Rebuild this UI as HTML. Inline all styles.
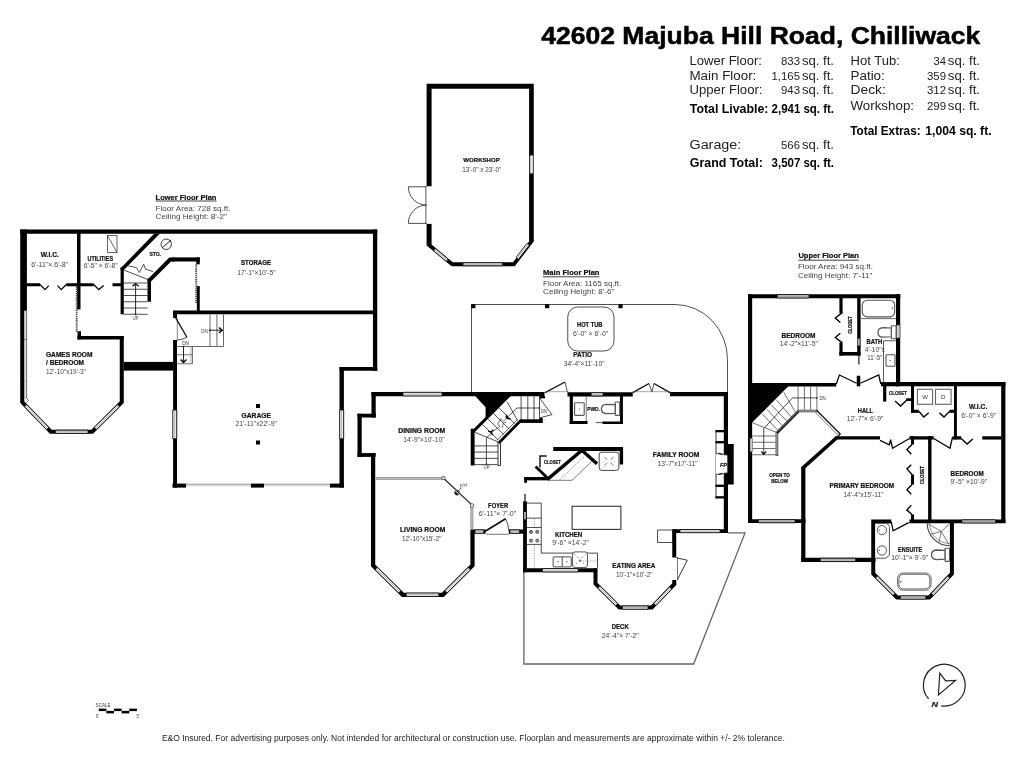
<!DOCTYPE html>
<html><head><meta charset="utf-8"><title>42602 Majuba Hill Road, Chilliwack</title>
<style>
html,body{margin:0;padding:0;background:#fff;}
body{width:1024px;height:768px;overflow:hidden;}
svg{display:block;will-change:transform;}
svg text{font-family:"Liberation Sans",sans-serif;}
</style></head><body>
<svg width="1024" height="768" viewBox="0 0 1024 768">
<rect width="1024" height="768" fill="#fff"/>
<!-- header -->
<text x="541.30" y="43.80" font-size="24" font-weight="700" fill="#000" text-anchor="start" textLength="439.00" lengthAdjust="spacingAndGlyphs" stroke="#000" stroke-width="0.5">42602 Majuba Hill Road, Chilliwack</text>
<text x="689.50" y="64.60" font-size="12.5" fill="#222" text-anchor="start" textLength="72.50" lengthAdjust="spacingAndGlyphs">Lower Floor:</text>
<text x="781.00" y="64.60" font-size="11" fill="#222" text-anchor="start" textLength="19.00" lengthAdjust="spacingAndGlyphs">833</text>
<text x="801.90" y="64.60" font-size="12.5" fill="#222" text-anchor="start" textLength="32.10" lengthAdjust="spacingAndGlyphs">sq. ft.</text>
<text x="689.50" y="79.50" font-size="12.5" fill="#222" text-anchor="start" textLength="66.80" lengthAdjust="spacingAndGlyphs">Main Floor:</text>
<text x="771.50" y="79.50" font-size="11" fill="#222" text-anchor="start" textLength="28.50" lengthAdjust="spacingAndGlyphs">1,165</text>
<text x="801.90" y="79.50" font-size="12.5" fill="#222" text-anchor="start" textLength="32.10" lengthAdjust="spacingAndGlyphs">sq. ft.</text>
<text x="689.50" y="94.00" font-size="12.5" fill="#222" text-anchor="start" textLength="73.00" lengthAdjust="spacingAndGlyphs">Upper Floor:</text>
<text x="781.00" y="94.00" font-size="11" fill="#222" text-anchor="start" textLength="19.00" lengthAdjust="spacingAndGlyphs">943</text>
<text x="801.90" y="94.00" font-size="12.5" fill="#222" text-anchor="start" textLength="32.10" lengthAdjust="spacingAndGlyphs">sq. ft.</text>
<text x="689.80" y="112.70" font-size="12" font-weight="700" fill="#000" text-anchor="start" textLength="78.60" lengthAdjust="spacingAndGlyphs">Total Livable:</text>
<text x="771.60" y="112.70" font-size="12" font-weight="700" fill="#000" text-anchor="start" textLength="62.40" lengthAdjust="spacingAndGlyphs">2,941 sq. ft.</text>
<text x="689.50" y="148.80" font-size="12.5" fill="#222" text-anchor="start" textLength="51.80" lengthAdjust="spacingAndGlyphs">Garage:</text>
<text x="781.00" y="148.80" font-size="11" fill="#222" text-anchor="start" textLength="19.00" lengthAdjust="spacingAndGlyphs">566</text>
<text x="801.90" y="148.80" font-size="12.5" fill="#222" text-anchor="start" textLength="32.10" lengthAdjust="spacingAndGlyphs">sq. ft.</text>
<text x="689.80" y="167.20" font-size="12" font-weight="700" fill="#000" text-anchor="start" textLength="73.00" lengthAdjust="spacingAndGlyphs">Grand Total:</text>
<text x="771.60" y="167.20" font-size="12" font-weight="700" fill="#000" text-anchor="start" textLength="62.40" lengthAdjust="spacingAndGlyphs">3,507 sq. ft.</text>
<text x="850.50" y="64.60" font-size="12.5" fill="#222" text-anchor="start" textLength="49.30" lengthAdjust="spacingAndGlyphs">Hot Tub:</text>
<text x="933.50" y="64.60" font-size="11" fill="#222" text-anchor="start" textLength="12.50" lengthAdjust="spacingAndGlyphs">34</text>
<text x="947.80" y="64.60" font-size="12.5" fill="#222" text-anchor="start" textLength="32.20" lengthAdjust="spacingAndGlyphs">sq. ft.</text>
<text x="850.50" y="79.50" font-size="12.5" fill="#222" text-anchor="start" textLength="34.30" lengthAdjust="spacingAndGlyphs">Patio:</text>
<text x="927.00" y="79.50" font-size="11" fill="#222" text-anchor="start" textLength="19.00" lengthAdjust="spacingAndGlyphs">359</text>
<text x="947.80" y="79.50" font-size="12.5" fill="#222" text-anchor="start" textLength="32.20" lengthAdjust="spacingAndGlyphs">sq. ft.</text>
<text x="850.50" y="94.00" font-size="12.5" fill="#222" text-anchor="start" textLength="35.30" lengthAdjust="spacingAndGlyphs">Deck:</text>
<text x="927.00" y="94.00" font-size="11" fill="#222" text-anchor="start" textLength="19.00" lengthAdjust="spacingAndGlyphs">312</text>
<text x="947.80" y="94.00" font-size="12.5" fill="#222" text-anchor="start" textLength="32.20" lengthAdjust="spacingAndGlyphs">sq. ft.</text>
<text x="850.50" y="110.00" font-size="12.5" fill="#222" text-anchor="start" textLength="63.50" lengthAdjust="spacingAndGlyphs">Workshop:</text>
<text x="927.00" y="110.00" font-size="11" fill="#222" text-anchor="start" textLength="19.00" lengthAdjust="spacingAndGlyphs">299</text>
<text x="947.80" y="110.00" font-size="12.5" fill="#222" text-anchor="start" textLength="32.20" lengthAdjust="spacingAndGlyphs">sq. ft.</text>
<text x="850.30" y="134.50" font-size="12" font-weight="700" fill="#000" text-anchor="start" textLength="70.30" lengthAdjust="spacingAndGlyphs">Total Extras:</text>
<text x="925.30" y="134.50" font-size="12" font-weight="700" fill="#000" text-anchor="start" textLength="66.30" lengthAdjust="spacingAndGlyphs">1,004 sq. ft.</text>
<text x="161.90" y="740.60" font-size="8.3" fill="#222" text-anchor="start" textLength="623.00" lengthAdjust="spacingAndGlyphs">E&amp;O Insured. For advertising purposes only. Not intended for architectural or construction use. Floorplan and measurements are approximate within +/- 2% tolerance.</text>
<text x="95.60" y="706.60" font-size="4.6" fill="#333" text-anchor="start" textLength="15.00" lengthAdjust="spacingAndGlyphs">SCALE</text>
<rect x="98.75" y="708.60" width="7.63" height="2.50" fill="#000"/>
<rect x="106.38" y="710.90" width="7.63" height="2.50" fill="#000"/>
<rect x="114.01" y="708.60" width="7.63" height="2.50" fill="#000"/>
<rect x="121.64" y="710.90" width="7.63" height="2.50" fill="#000"/>
<rect x="129.27" y="708.60" width="7.63" height="2.50" fill="#000"/>
<text x="96.00" y="717.50" font-size="4.6" fill="#333" text-anchor="start" textLength="3.00" lengthAdjust="spacingAndGlyphs">0'</text>
<text x="136.50" y="717.50" font-size="4.6" fill="#333" text-anchor="start" textLength="3.00" lengthAdjust="spacingAndGlyphs">5'</text>
<path d="M 941.3 705.8 A 20.9 20.9 0 1 0 928.6 698.9" fill="none" stroke="#222" stroke-width="1.2"/>
<path d="M 938.4 695 L 939.8 673.2 L 945.6 680.8 L 955.6 680.4 Z" fill="none" stroke="#222" stroke-width="1.2" stroke-linejoin="miter"/>
<text x="931.50" y="706.80" font-size="7.5" font-weight="700" fill="#222" text-anchor="start" textLength="6.50" lengthAdjust="spacingAndGlyphs" font-style="italic" stroke="#222" stroke-width="0.2">N</text>
<!-- lower floor -->
<text x="155.60" y="199.50" font-size="7" font-weight="700" fill="#111" text-anchor="start" textLength="60.80" lengthAdjust="spacingAndGlyphs" stroke="#111" stroke-width="0.2">Lower Floor Plan</text>
<path d="M155.60 201.00 L216.40 201.00" fill="none" stroke="#111" stroke-width="0.8"/>
<text x="155.60" y="210.70" font-size="7.4" fill="#444" text-anchor="start" textLength="75.00" lengthAdjust="spacingAndGlyphs">Floor Area: 728 sq.ft.</text>
<text x="155.60" y="218.60" font-size="7.4" fill="#444" text-anchor="start" textLength="71.40" lengthAdjust="spacingAndGlyphs">Ceiling Height: 8'-2"</text>
<path d="M20.25 231.60 L377.20 231.60" fill="none" stroke="#000" stroke-width="4.3" stroke-linecap="butt" stroke-linejoin="miter"/>
<path d="M375.10 229.50 L375.10 370.80" fill="none" stroke="#000" stroke-width="4.3" stroke-linecap="butt" stroke-linejoin="miter"/>
<path d="M339.50 368.90 L377.20 368.90" fill="none" stroke="#000" stroke-width="3.8" stroke-linecap="butt" stroke-linejoin="miter"/>
<path d="M341.70 367.00 L341.70 487.50" fill="none" stroke="#000" stroke-width="4.4" stroke-linecap="butt" stroke-linejoin="miter"/>
<rect x="330.00" y="483.60" width="14.00" height="4.00" fill="#000"/>
<rect x="251.00" y="483.60" width="13.00" height="4.00" fill="#000"/>
<rect x="172.50" y="483.60" width="13.50" height="4.00" fill="#000"/>
<path d="M175.05 311.00 L175.05 318.10" fill="none" stroke="#000" stroke-width="3.9" stroke-linecap="butt" stroke-linejoin="miter"/>
<path d="M175.05 340.00 L175.05 487.60" fill="none" stroke="#000" stroke-width="3.9" stroke-linecap="butt" stroke-linejoin="miter"/>
<path d="M173.10 312.40 L373.00 312.40" fill="none" stroke="#000" stroke-width="3.7" stroke-linecap="butt" stroke-linejoin="miter"/>
<rect x="20.25" y="229.50" width="6.65" height="81.10" fill="#000"/>
<rect x="20.25" y="310.00" width="4.00" height="71.00" fill="#000"/>
<path d="M23.60 310.60 L26.60 310.60 L26.60 398.00 L28.50 400.50 L26.50 402.50" fill="none" stroke="#333" stroke-width="0.7"/>
<path d="M25.10 311.00 L25.10 399.00" fill="none" stroke="#888" stroke-width="0.5"/>
<path d="M23.60 339.40 L26.60 339.40" fill="none" stroke="#333" stroke-width="0.6"/>
<path d="M22.25 380.00 L22.25 402.20 L50.80 431.75 L92.20 431.75 L121.75 402.20 L121.75 336.00" fill="none" stroke="#000" stroke-width="4" stroke-linecap="butt" stroke-linejoin="miter"/>
<polygon points="24.49,406.78 46.49,429.48 48.71,427.32 26.71,404.62" fill="#fafafa" stroke="#111" stroke-width="0.9"/>
<line x1="25.60" y1="405.70" x2="47.60" y2="428.40" stroke="#777" stroke-width="0.6"/>
<polygon points="55.60,433.35 88.00,433.35 88.00,430.15 55.60,430.15" fill="#fafafa" stroke="#111" stroke-width="0.9"/>
<line x1="55.60" y1="431.75" x2="88.00" y2="431.75" stroke="#777" stroke-width="0.6"/>
<polygon points="96.49,429.50 119.49,406.80 117.31,404.60 94.31,427.30" fill="#fafafa" stroke="#111" stroke-width="0.9"/>
<line x1="95.40" y1="428.40" x2="118.40" y2="405.70" stroke="#777" stroke-width="0.6"/>
<path d="M78.75 233.00 L78.75 309.40" fill="none" stroke="#000" stroke-width="3.5" stroke-linecap="butt" stroke-linejoin="miter"/>
<path d="M79.25 331.20 L79.25 339.40" fill="none" stroke="#000" stroke-width="3.5" stroke-linecap="butt" stroke-linejoin="miter"/>
<path d="M77.50 337.70 L123.70 337.70" fill="none" stroke="#000" stroke-width="3.4" stroke-linecap="butt" stroke-linejoin="miter"/>
<path d="M76.70 286.50 L76.70 332.50" fill="none" stroke="#555" stroke-width="1.9" stroke-dasharray="1.4 0.7"/>
<path d="M26.00 284.75 L40.00 284.75" fill="none" stroke="#000" stroke-width="3" stroke-linecap="butt" stroke-linejoin="miter"/>
<path d="M66.25 284.75 L93.75 284.75" fill="none" stroke="#000" stroke-width="3" stroke-linecap="butt" stroke-linejoin="miter"/>
<path d="M112.50 284.75 L122.50 284.75" fill="none" stroke="#000" stroke-width="3" stroke-linecap="butt" stroke-linejoin="miter"/>
<path d="M40.00 284.50 L45.00 289.60 L48.75 285.60" fill="none" stroke="#000" stroke-width="1.25"/>
<path d="M57.50 285.60 L61.25 289.60 L66.25 284.50" fill="none" stroke="#000" stroke-width="1.25"/>
<path d="M93.75 284.50 L98.75 289.60 L103.75 285.60" fill="none" stroke="#000" stroke-width="1.25"/>
<path d="M122.20 267.50 L122.20 314.30" fill="none" stroke="#000" stroke-width="3.2" stroke-linecap="butt" stroke-linejoin="miter"/>
<polygon points="154.40,233.40 160.00,233.40 123.75,270.00 120.60,270.00 120.60,268.30" fill="#000"/>
<path d="M149.25 278.50 L149.25 301.75" fill="none" stroke="#000" stroke-width="3.5" stroke-linecap="butt" stroke-linejoin="miter"/>
<polygon points="147.50,279.50 169.30,257.40 174.50,257.40 174.50,261.50 171.00,261.50 151.00,281.60 147.50,281.60" fill="#000"/>
<path d="M172.00 259.45 L199.75 259.45" fill="none" stroke="#000" stroke-width="4.1" stroke-linecap="butt" stroke-linejoin="miter"/>
<path d="M198.00 257.40 L198.00 264.30" fill="none" stroke="#000" stroke-width="3.5" stroke-linecap="butt" stroke-linejoin="miter"/>
<path d="M198.30 286.10 L198.30 311.00" fill="none" stroke="#000" stroke-width="2.9" stroke-linecap="butt" stroke-linejoin="miter"/>
<path d="M196.20 264.30 L196.20 303.00" fill="none" stroke="#555" stroke-width="1.9" stroke-dasharray="1.4 0.7"/>
<path d="M123.75 283.00 L147.50 283.00" fill="none" stroke="#222" stroke-width="0.8"/>
<path d="M123.75 289.25 L147.50 289.25" fill="none" stroke="#222" stroke-width="0.8"/>
<path d="M123.75 295.50 L147.50 295.50" fill="none" stroke="#222" stroke-width="0.8"/>
<path d="M123.75 301.75 L147.50 301.75" fill="none" stroke="#222" stroke-width="0.8"/>
<path d="M123.75 308.00 L147.50 308.00" fill="none" stroke="#222" stroke-width="0.8"/>
<path d="M123.75 314.25 L147.50 314.25" fill="none" stroke="#222" stroke-width="0.8"/>
<path d="M123.75 270.00 L147.50 279.40" fill="none" stroke="#222" stroke-width="0.8"/>
<path d="M127.00 265.60 L136.20 267.50 L139.40 272.40 L143.70 264.20 L145.60 269.20 L153.10 271.60" fill="none" stroke="#222" stroke-width="0.8"/>
<path d="M135.60 284.30 L135.60 314.30" fill="none" stroke="#111" stroke-width="0.9"/>
<path d="M132.50 286.20 L135.60 283.70 L138.70 286.20" fill="none" stroke="#000" stroke-width="1.25"/>
<circle cx="135.6" cy="314.3" r="0.9" fill="#111"/>
<text x="132.50" y="320.20" font-size="4.6" fill="#444" text-anchor="start" textLength="6.00" lengthAdjust="spacingAndGlyphs">UP</text>
<rect x="123.70" y="361.90" width="49.60" height="8.70" fill="#000"/>
<path d="M177.00 346.50 L223.50 346.50 L223.50 314.40" fill="none" stroke="#555" stroke-width="0.9"/>
<path d="M210.00 314.40 L210.00 346.50" fill="none" stroke="#777" stroke-width="1.1"/>
<path d="M216.90 314.40 L216.90 346.50" fill="none" stroke="#777" stroke-width="1.1"/>
<path d="M177.30 318.10 L177.30 340.00" fill="none" stroke="#555" stroke-width="0.7"/>
<path d="M175.50 317.50 L186.90 337.25" fill="none" stroke="#111" stroke-width="1.4"/>
<path d="M186.9 337.25 Q182 339.8 177 340.2" fill="none" stroke="#222" stroke-width="0.8"/>
<text x="201.25" y="332.75" font-size="4.6" fill="#333" text-anchor="start" textLength="6.50" lengthAdjust="spacingAndGlyphs">DN</text>
<path d="M209.75 330.25 L222.00 330.25" fill="none" stroke="#111" stroke-width="0.9"/>
<path d="M219.00 327.40 L222.20 330.25 L219.00 333.10" fill="none" stroke="#000" stroke-width="1.35"/>
<circle cx="209.75" cy="330.25" r="0.9" fill="#111"/>
<path d="M177.00 346.50 L192.50 346.50 L192.50 363.75 L177.00 363.75" fill="none" stroke="#666" stroke-width="0.9"/>
<path d="M191.00 346.50 L191.00 363.75" fill="none" stroke="#888" stroke-width="0.7"/>
<path d="M177.00 354.75 L192.50 354.75" fill="none" stroke="#666" stroke-width="0.9"/>
<text x="182.25" y="344.75" font-size="4.6" fill="#333" text-anchor="start" textLength="6.75" lengthAdjust="spacingAndGlyphs">DN</text>
<path d="M183.50 346.50 L183.50 362.30" fill="none" stroke="#111" stroke-width="0.9"/>
<path d="M180.60 359.50 L183.50 362.50 L186.40 359.50" fill="none" stroke="#000" stroke-width="1.35"/>
<circle cx="183.5" cy="346.5" r="0.8" fill="#111"/>
<path d="M186.00 484.20 L251.00 484.20" fill="none" stroke="#444" stroke-width="0.6"/>
<path d="M186.00 485.80 L251.00 485.80" fill="none" stroke="#999" stroke-width="0.5"/>
<path d="M264.00 484.20 L330.00 484.20" fill="none" stroke="#444" stroke-width="0.6"/>
<path d="M264.00 485.80 L330.00 485.80" fill="none" stroke="#999" stroke-width="0.5"/>
<polygon points="172.75,410.00 172.75,438.70 176.75,438.70 176.75,410.00" fill="#fafafa" stroke="#111" stroke-width="0.9"/>
<line x1="174.75" y1="410.00" x2="174.75" y2="438.70" stroke="#777" stroke-width="0.6"/>
<polygon points="339.70,410.00 339.70,438.70 343.70,438.70 343.70,410.00" fill="#fafafa" stroke="#111" stroke-width="0.9"/>
<line x1="341.70" y1="410.00" x2="341.70" y2="438.70" stroke="#777" stroke-width="0.6"/>
<rect x="256.00" y="404.00" width="4.00" height="4.00" fill="#000"/>
<rect x="256.00" y="440.50" width="4.00" height="4.00" fill="#000"/>
<path d="M107.50 235.50 L117.00 235.50 L117.00 252.50 L107.50 252.50 Z" fill="none" stroke="#222" stroke-width="0.7"/>
<path d="M107.50 235.50 L117.00 252.50" fill="none" stroke="#222" stroke-width="0.7"/>
<circle cx="166.25" cy="244.25" r="5.2" fill="none" stroke="#222" stroke-width="0.9"/>
<path d="M161.90 248.00 L171.25 239.90" fill="none" stroke="#222" stroke-width="1.0"/>
<text x="40.75" y="257.00" font-size="6.5" font-weight="700" fill="#111" text-anchor="start" textLength="18.00" lengthAdjust="spacingAndGlyphs" stroke="#111" stroke-width="0.2">W.I.C.</text>
<text x="31.25" y="267.00" font-size="6.8" fill="#444" text-anchor="start" textLength="36.80" lengthAdjust="spacingAndGlyphs">6'-11"× 6'-8"</text>
<text x="87.50" y="260.50" font-size="6.5" font-weight="700" fill="#111" text-anchor="start" textLength="25.50" lengthAdjust="spacingAndGlyphs" stroke="#111" stroke-width="0.2">UTILITIES</text>
<text x="83.75" y="268.30" font-size="6.8" fill="#444" text-anchor="start" textLength="33.80" lengthAdjust="spacingAndGlyphs">6'-5" × 6'-8"</text>
<text x="149.40" y="255.50" font-size="5.6" font-weight="700" fill="#111" text-anchor="start" textLength="11.60" lengthAdjust="spacingAndGlyphs" stroke="#111" stroke-width="0.2">STO.</text>
<text x="241.00" y="265.00" font-size="6.5" font-weight="700" fill="#111" text-anchor="start" textLength="30.00" lengthAdjust="spacingAndGlyphs" stroke="#111" stroke-width="0.2">STORAGE</text>
<text x="237.25" y="275.00" font-size="6.8" fill="#444" text-anchor="start" textLength="38.30" lengthAdjust="spacingAndGlyphs">17'-1"×10'-5"</text>
<text x="46.00" y="356.90" font-size="6.5" font-weight="700" fill="#111" text-anchor="start" textLength="46.50" lengthAdjust="spacingAndGlyphs" stroke="#111" stroke-width="0.2">GAMES ROOM</text>
<text x="46.00" y="365.00" font-size="6.5" font-weight="700" fill="#111" text-anchor="start" textLength="38.00" lengthAdjust="spacingAndGlyphs" stroke="#111" stroke-width="0.2">/ BEDROOM</text>
<text x="46.00" y="373.50" font-size="6.8" fill="#444" text-anchor="start" textLength="40.00" lengthAdjust="spacingAndGlyphs">12'-10"x19'-3"</text>
<text x="241.50" y="417.50" font-size="6.5" font-weight="700" fill="#111" text-anchor="start" textLength="29.50" lengthAdjust="spacingAndGlyphs" stroke="#111" stroke-width="0.2">GARAGE</text>
<text x="235.50" y="426.30" font-size="6.8" fill="#444" text-anchor="start" textLength="41.50" lengthAdjust="spacingAndGlyphs">21'-11"x22'-9"</text>
<!-- workshop -->
<path fill-rule="evenodd" fill="#000" d="M426.6 83.75 L533.75 83.75 L533.75 241.6 L514.75 266.25 L451.6 266.25 L426.6 245.4 Z M431.6 88.75 L529.1 88.75 L529.1 241.4 L513 262.25 L452.7 262.25 L431.6 244.6 Z"/>
<rect x="425.00" y="186.25" width="8.00" height="37.65" fill="#fff"/>
<polygon points="433.63,250.85 446.23,261.45 448.17,259.15 435.57,248.55" fill="#fafafa" stroke="#111" stroke-width="0.9"/>
<line x1="434.60" y1="249.70" x2="447.20" y2="260.30" stroke="#777" stroke-width="0.6"/>
<polygon points="463.00,265.75 502.25,265.75 502.25,262.75 463.00,262.75" fill="#fafafa" stroke="#111" stroke-width="0.9"/>
<line x1="463.00" y1="264.25" x2="502.25" y2="264.25" stroke="#777" stroke-width="0.6"/>
<polygon points="518.39,259.32 529.39,245.12 527.01,243.28 516.01,257.48" fill="#fafafa" stroke="#111" stroke-width="0.9"/>
<line x1="517.20" y1="258.40" x2="528.20" y2="244.20" stroke="#777" stroke-width="0.6"/>
<rect x="529.8" y="155" width="3.6" height="18.75" rx="1.5" fill="#e4e4e4" stroke="#333" stroke-width="0.7"/>
<path d="M425.90 186.30 L425.90 223.90" fill="none" stroke="#333" stroke-width="0.8"/>
<path d="M426.5 186.8 L408.3 186.8 A18.3 18.3 0 0 0 426.5 205.1 A18.3 18.3 0 0 0 408.3 223.4 L426.5 223.4" fill="none" stroke="#222" stroke-width="0.8"/>
<text x="463.30" y="162.40" font-size="5.8" font-weight="700" fill="#111" text-anchor="start" textLength="36.50" lengthAdjust="spacingAndGlyphs" stroke="#111" stroke-width="0.2">WORKSHOP</text>
<text x="462.30" y="171.80" font-size="6.3" fill="#444" text-anchor="start" textLength="39.00" lengthAdjust="spacingAndGlyphs">13'-0" x 23'-0"</text>
<!-- main floor -->
<text x="543.00" y="275.00" font-size="7" font-weight="700" fill="#111" text-anchor="start" textLength="56.50" lengthAdjust="spacingAndGlyphs" stroke="#111" stroke-width="0.2">Main Floor Plan</text>
<path d="M543.00 276.80 L599.50 276.80" fill="none" stroke="#111" stroke-width="0.8"/>
<text x="543.00" y="285.75" font-size="7.4" fill="#444" text-anchor="start" textLength="78.25" lengthAdjust="spacingAndGlyphs">Floor Area: 1165 sq.ft.</text>
<text x="543.00" y="293.75" font-size="7.4" fill="#444" text-anchor="start" textLength="71.50" lengthAdjust="spacingAndGlyphs">Ceiling Height: 8'-6"</text>
<path d="M471.5 392 L471.5 304.5 L675 304.5 A52.5 55 0 0 1 727.5 359.5 L727.5 392" fill="none" stroke="#222" stroke-width="0.8"/>
<rect x="471.20" y="304.20" width="4.20" height="4.00" fill="#000"/>
<rect x="545.00" y="304.20" width="4.30" height="4.00" fill="#000"/>
<rect x="618.40" y="304.20" width="4.20" height="4.00" fill="#000"/>
<rect x="567.75" y="307" width="46.25" height="44" rx="10" ry="10" fill="#fff" stroke="#222" stroke-width="0.8"/>
<text x="577.00" y="326.75" font-size="6.5" font-weight="700" fill="#111" text-anchor="start" textLength="25.50" lengthAdjust="spacingAndGlyphs" stroke="#111" stroke-width="0.2">HOT TUB</text>
<text x="573.00" y="336.25" font-size="6.8" fill="#444" text-anchor="start" textLength="35.25" lengthAdjust="spacingAndGlyphs">6'-0" × 6'-0"</text>
<text x="573.25" y="356.75" font-size="6.5" font-weight="700" fill="#111" text-anchor="start" textLength="18.75" lengthAdjust="spacingAndGlyphs" stroke="#111" stroke-width="0.2">PATIO</text>
<text x="563.75" y="365.75" font-size="6.8" fill="#444" text-anchor="start" textLength="40.75" lengthAdjust="spacingAndGlyphs">34'-4"×11'-10"</text>
<path d="M523.90 572.00 L523.90 664.00 L693.60 664.00 L745.00 532.90 L727.50 532.90" fill="none" stroke="#666" stroke-width="1.3"/>
<path d="M371.50 394.10 L544.50 394.10" fill="none" stroke="#000" stroke-width="4.25" stroke-linecap="butt" stroke-linejoin="miter"/>
<path d="M567.50 394.30 L632.75 394.30" fill="none" stroke="#000" stroke-width="4.3" stroke-linecap="butt" stroke-linejoin="miter"/>
<path d="M670.00 394.10 L727.50 394.10" fill="none" stroke="#000" stroke-width="4.25" stroke-linecap="butt" stroke-linejoin="miter"/>
<path d="M373.60 392.00 L373.60 417.50" fill="none" stroke="#000" stroke-width="4.25" stroke-linecap="butt" stroke-linejoin="miter"/>
<path d="M357.50 415.60 L375.75 415.60" fill="none" stroke="#000" stroke-width="3.8" stroke-linecap="butt" stroke-linejoin="miter"/>
<path d="M359.60 413.75 L359.60 457.00" fill="none" stroke="#000" stroke-width="4.25" stroke-linecap="butt" stroke-linejoin="miter"/>
<path d="M357.50 455.00 L375.75 455.00" fill="none" stroke="#000" stroke-width="3.8" stroke-linecap="butt" stroke-linejoin="miter"/>
<path d="M373.10 453.00 L373.10 565.40 L402.80 594.75 L442.90 594.75 L472.50 565.40 L472.50 530.00" fill="none" stroke="#000" stroke-width="4.25" stroke-linecap="butt" stroke-linejoin="miter"/>
<polygon points="375.14,569.77 398.64,592.97 400.96,590.63 377.46,567.43" fill="#fafafa" stroke="#111" stroke-width="0.9"/>
<line x1="376.30" y1="568.60" x2="399.80" y2="591.80" stroke="#777" stroke-width="0.6"/>
<polygon points="406.25,596.45 438.75,596.45 438.75,593.05 406.25,593.05" fill="#fafafa" stroke="#111" stroke-width="0.9"/>
<line x1="406.25" y1="594.75" x2="438.75" y2="594.75" stroke="#777" stroke-width="0.6"/>
<polygon points="447.06,592.97 470.46,569.77 468.14,567.43 444.74,590.63" fill="#fafafa" stroke="#111" stroke-width="0.9"/>
<line x1="445.90" y1="591.80" x2="469.30" y2="568.60" stroke="#777" stroke-width="0.6"/>
<polygon points="403.00,395.90 442.00,395.90 442.00,392.30 403.00,392.30" fill="#fafafa" stroke="#111" stroke-width="0.9"/>
<line x1="403.00" y1="394.10" x2="442.00" y2="394.10" stroke="#777" stroke-width="0.6"/>
<path d="M471.00 531.60 L485.60 531.60" fill="none" stroke="#000" stroke-width="4.3" stroke-linecap="butt" stroke-linejoin="miter"/>
<path d="M508.75 531.60 L525.75 531.60" fill="none" stroke="#000" stroke-width="4.3" stroke-linecap="butt" stroke-linejoin="miter"/>
<polygon points="475.00,533.25 483.75,533.25 483.75,529.95 475.00,529.95" fill="#fafafa" stroke="#111" stroke-width="0.9"/>
<line x1="475.00" y1="531.60" x2="483.75" y2="531.60" stroke="#777" stroke-width="0.6"/>
<polygon points="510.00,533.25 519.40,533.25 519.40,529.95 510.00,529.95" fill="#fafafa" stroke="#111" stroke-width="0.9"/>
<line x1="510.00" y1="531.60" x2="519.40" y2="531.60" stroke="#777" stroke-width="0.6"/>
<path d="M485.20 531.20 L505.60 518.75" fill="none" stroke="#111" stroke-width="1.7"/>
<path d="M505.6 518.75 Q508.6 524 508.75 530.5" fill="none" stroke="#222" stroke-width="0.8"/>
<path d="M486.30 534.30 L508.75 534.30" fill="none" stroke="#555" stroke-width="0.8"/>
<path d="M375.75 477.90 L442.00 477.90" fill="none" stroke="#333" stroke-width="0.8"/>
<path d="M375.75 479.40 L442.00 479.40" fill="none" stroke="#777" stroke-width="0.7"/>
<path d="M444.60 479.30 L471.30 504.40" fill="none" stroke="#222" stroke-width="1.2"/>
<rect x="442" y="476.6" width="3" height="3" rx="0.8" fill="#fff" stroke="#333" stroke-width="0.8"/>
<rect x="470.4" y="503.9" width="3.2" height="3.2" rx="0.8" fill="#fff" stroke="#333" stroke-width="0.8"/>
<path d="M471.00 507.20 L471.00 529.50" fill="none" stroke="#444" stroke-width="0.8"/>
<path d="M472.80 507.20 L472.80 529.50" fill="none" stroke="#666" stroke-width="0.8"/>
<text x="0.00" y="0.00" font-size="4.6" fill="#444" text-anchor="start" textLength="7.50" lengthAdjust="spacingAndGlyphs" transform="translate(460 487.6) rotate(-12)">DN</text>
<path d="M454.9 491.2 A2.6 2.6 0 0 0 458.7 494.6 Z" fill="#222" stroke="#222" stroke-width="0.6"/>
<path d="M461.20 488.00 L458.00 491.40" fill="none" stroke="#222" stroke-width="0.8"/>
<path d="M457.60 489.60 L457.90 491.60 L459.80 491.50" fill="none" stroke="#222" stroke-width="0.7"/>
<path d="M725.90 392.00 L725.90 533.00" fill="none" stroke="#000" stroke-width="4.2" stroke-linecap="butt" stroke-linejoin="miter"/>
<path d="M672.50 531.10 L727.50 531.10" fill="none" stroke="#000" stroke-width="3.8" stroke-linecap="butt" stroke-linejoin="miter"/>
<polygon points="680.00,532.70 720.00,532.70 720.00,529.50 680.00,529.50" fill="#fafafa" stroke="#111" stroke-width="0.9"/>
<line x1="680.00" y1="531.10" x2="720.00" y2="531.10" stroke="#777" stroke-width="0.6"/>
<path d="M674.25 529.40 L674.25 557.50" fill="none" stroke="#000" stroke-width="4" stroke-linecap="butt" stroke-linejoin="miter"/>
<path d="M657.50 530.00 L672.50 530.00 L672.50 542.50 L657.50 542.50 Z" fill="none" stroke="#222" stroke-width="0.8"/>
<rect x="728.00" y="444.00" width="5.70" height="40.50" fill="#000"/>
<path d="M716.00 430.00 L716.00 498.50" fill="none" stroke="#222" stroke-width="0.9"/>
<rect x="715.60" y="430.00" width="8.40" height="2.30" fill="#000"/>
<rect x="715.60" y="441.00" width="8.40" height="2.40" fill="#000"/>
<rect x="715.60" y="484.60" width="8.40" height="2.40" fill="#000"/>
<rect x="715.60" y="496.20" width="8.40" height="2.30" fill="#000"/>
<polygon points="715.80,453.40 727.60,455.20 727.60,472.80 715.80,474.50" fill="#fff"/>
<path d="M715.80 453.40 L727.60 455.20 L727.60 472.80 L715.80 474.50" fill="none" stroke="#444" stroke-width="0.9"/>
<path d="M718.50 453.20 L722.50 454.40" fill="none" stroke="#333" stroke-width="1.3"/>
<path d="M718.50 474.70 L722.50 473.60" fill="none" stroke="#333" stroke-width="1.3"/>
<text x="719.90" y="466.90" font-size="5.8" font-weight="700" fill="#111" text-anchor="start" textLength="7.00" lengthAdjust="spacingAndGlyphs" font-style="italic" stroke="#111" stroke-width="0.2">FP</text>
<path d="M595.50 568.20 L595.50 583.60 L619.60 607.60 L651.70 607.60 L674.25 584.20 L674.25 580.00" fill="none" stroke="#000" stroke-width="4" stroke-linecap="butt" stroke-linejoin="miter"/>
<polygon points="597.71,588.00 615.51,605.70 617.69,603.50 599.89,585.80" fill="#fafafa" stroke="#111" stroke-width="0.9"/>
<line x1="598.80" y1="586.90" x2="616.60" y2="604.60" stroke="#777" stroke-width="0.6"/>
<polygon points="622.50,609.20 648.00,609.20 648.00,606.00 622.50,606.00" fill="#fafafa" stroke="#111" stroke-width="0.9"/>
<line x1="622.50" y1="607.60" x2="648.00" y2="607.60" stroke="#777" stroke-width="0.6"/>
<polygon points="655.92,605.57 671.72,589.07 669.48,586.93 653.68,603.43" fill="#fafafa" stroke="#111" stroke-width="0.9"/>
<line x1="654.80" y1="604.50" x2="670.60" y2="588.00" stroke="#777" stroke-width="0.6"/>
<path d="M677.50 557.50 L677.50 580.00" fill="none" stroke="#444" stroke-width="0.7"/>
<path d="M676.25 557.70 L687.25 560.25 L677.30 580.00" fill="none" stroke="#222" stroke-width="0.9"/>
<path d="M525.00 501.25 L525.00 572.30" fill="none" stroke="#000" stroke-width="3.8" stroke-linecap="butt" stroke-linejoin="miter"/>
<path d="M525.00 493.75 L525.00 501.30" fill="none" stroke="#111" stroke-width="1.2"/>
<path d="M523.10 570.20 L597.10 570.20" fill="none" stroke="#000" stroke-width="4.1" stroke-linecap="butt" stroke-linejoin="miter"/>
<polygon points="542.50,571.90 578.10,571.90 578.10,568.50 542.50,568.50" fill="#fafafa" stroke="#111" stroke-width="0.9"/>
<line x1="542.50" y1="570.20" x2="578.10" y2="570.20" stroke="#777" stroke-width="0.6"/>
<rect x="524.2" y="512" width="1.6" height="7.4" fill="#ccc"/>
<path d="M526.90 503.10 L541.25 503.10 L541.25 553.10 L597.50 553.10 L597.50 568.00" fill="none" stroke="#222" stroke-width="0.8"/>
<path d="M526.90 518.10 L541.25 518.10" fill="none" stroke="#222" stroke-width="0.8"/>
<path d="M526.90 527.50 L541.25 527.50" fill="none" stroke="#222" stroke-width="0.8"/>
<path d="M526.90 544.40 L541.25 544.40" fill="none" stroke="#222" stroke-width="0.8"/>
<path d="M534.40 518.50 L534.40 527.30" fill="none" stroke="#777" stroke-width="0.6" stroke-dasharray="1.5 1"/>
<path d="M534.40 545.00 L534.40 568.00" fill="none" stroke="#777" stroke-width="0.6" stroke-dasharray="1.5 1"/>
<circle cx="531" cy="531.9" r="1.5" fill="none" stroke="#222" stroke-width="0.8"/>
<path d="M529.90 530.80 L532.10 533.00" fill="none" stroke="#222" stroke-width="0.5"/>
<path d="M529.90 533.00 L532.10 530.80" fill="none" stroke="#222" stroke-width="0.5"/>
<circle cx="531" cy="540.6" r="1.5" fill="none" stroke="#222" stroke-width="0.8"/>
<path d="M529.90 539.50 L532.10 541.70" fill="none" stroke="#222" stroke-width="0.5"/>
<path d="M529.90 541.70 L532.10 539.50" fill="none" stroke="#222" stroke-width="0.5"/>
<circle cx="537.25" cy="531.9" r="1.5" fill="none" stroke="#222" stroke-width="0.8"/>
<path d="M536.15 530.80 L538.35 533.00" fill="none" stroke="#222" stroke-width="0.5"/>
<path d="M536.15 533.00 L538.35 530.80" fill="none" stroke="#222" stroke-width="0.5"/>
<circle cx="537.25" cy="540.6" r="1.5" fill="none" stroke="#222" stroke-width="0.8"/>
<path d="M536.15 539.50 L538.35 541.70" fill="none" stroke="#222" stroke-width="0.5"/>
<path d="M536.15 541.70 L538.35 539.50" fill="none" stroke="#222" stroke-width="0.5"/>
<rect x="553.1" y="556.9" width="18.15" height="10" rx="0.8" fill="#fff" stroke="#222" stroke-width="0.8"/>
<path d="M562.20 556.90 L562.20 566.90" fill="none" stroke="#222" stroke-width="0.8"/>
<circle cx="558.1" cy="561.6" r="0.6" fill="#222"/><circle cx="566.9" cy="561.6" r="0.6" fill="#222"/>
<rect x="572.5" y="551.9" width="15" height="15.6" rx="2.5" fill="#fff" stroke="#333" stroke-width="0.8"/>
<path d="M574.00 553.50 L586.00 566.00" fill="none" stroke="#555" stroke-width="0.6" stroke-dasharray="2 2.2"/>
<path d="M586.00 553.50 L574.00 566.00" fill="none" stroke="#555" stroke-width="0.6" stroke-dasharray="2 2.2"/>
<circle cx="580" cy="561" r="0.8" fill="#222"/>
<path d="M580.00 561.00 L597.50 561.00" fill="none" stroke="#777" stroke-width="0.6" stroke-dasharray="1.5 1"/>
<rect x="572.1" y="506.25" width="48.8" height="23.1" fill="#fff" stroke="#222" stroke-width="1"/>
<path d="M571.30 396.00 L571.30 424.00" fill="none" stroke="#000" stroke-width="3.2" stroke-linecap="butt" stroke-linejoin="miter"/>
<path d="M569.75 422.50 L587.50 422.50" fill="none" stroke="#000" stroke-width="3.0" stroke-linecap="butt" stroke-linejoin="miter"/>
<path d="M602.50 422.75 L622.90 422.75" fill="none" stroke="#000" stroke-width="2.5" stroke-linecap="butt" stroke-linejoin="miter"/>
<path d="M621.45 396.00 L621.45 424.00" fill="none" stroke="#000" stroke-width="2.9" stroke-linecap="butt" stroke-linejoin="miter"/>
<polygon points="591.25,395.90 603.00,395.90 603.00,392.70 591.25,392.70" fill="#fafafa" stroke="#111" stroke-width="0.9"/>
<line x1="591.25" y1="394.30" x2="603.00" y2="394.30" stroke="#777" stroke-width="0.6"/>
<path d="M596.00 422.60 L602.50 422.60" fill="none" stroke="#222" stroke-width="0.8"/>
<rect x="574.6" y="402.7" width="9.6" height="12.7" rx="0.8" fill="#fff" stroke="#555" stroke-width="1.1"/>
<circle cx="579.4" cy="409" r="0.6" fill="#222"/>
<path d="M586.25 396.30 L586.25 421.00" fill="none" stroke="#444" stroke-width="0.7"/>
<rect x="615.2" y="402" width="4.5" height="13.4" rx="0.6" fill="#fff" stroke="#555" stroke-width="1.1"/>
<path d="M615.2 404.6 L606.3 404.3 Q601.4 404.6 601.4 409 Q601.4 413.2 606.3 413.6 L615.2 413.3 Z" fill="#fff" stroke="#555" stroke-width="1.3"/>
<text x="587.25" y="411.25" font-size="5.6" font-weight="700" fill="#111" text-anchor="start" textLength="12.75" lengthAdjust="spacingAndGlyphs" stroke="#111" stroke-width="0.2">PWD.</text>
<path d="M545.00 392.60 L565.00 382.00" fill="none" stroke="#111" stroke-width="1.3"/>
<path d="M565.00 382.00 L567.50 392.30" fill="none" stroke="#222" stroke-width="0.8"/>
<path d="M632.75 392.60 L649.00 383.50" fill="none" stroke="#111" stroke-width="1.4"/>
<path d="M670.00 392.60 L654.00 383.50" fill="none" stroke="#111" stroke-width="1.4"/>
<path d="M649.00 383.50 L651.90 392.00 L654.00 383.50" fill="none" stroke="#222" stroke-width="0.8"/>
<path d="M632.50 391.70 L670.00 391.70" fill="none" stroke="#666" stroke-width="0.6"/>
<path d="M545.00 391.70 L568.50 391.70" fill="none" stroke="#666" stroke-width="0.6"/>
<polygon points="474.20,395.00 511.80,395.00 474.60,432.20 474.60,465.50 470.70,465.50 470.70,428.70 473.90,428.70 485.60,417.00 485.60,407.20 475.40,396.20" fill="#000"/>
<path d="M521.10 396.20 L521.10 419.50" fill="none" stroke="#222" stroke-width="0.8"/>
<path d="M527.80 396.20 L527.80 419.50" fill="none" stroke="#222" stroke-width="0.8"/>
<path d="M534.00 396.20 L534.00 419.50" fill="none" stroke="#222" stroke-width="0.8"/>
<path d="M539.50 396.20 L539.50 419.50" fill="none" stroke="#222" stroke-width="0.8"/>
<path d="M520.00 421.10 L542.60 421.10" fill="none" stroke="#000" stroke-width="3.6" stroke-linecap="butt" stroke-linejoin="miter"/>
<rect x="539.50" y="418.00" width="3.10" height="4.90" fill="#000"/>
<rect x="539.50" y="396.00" width="5.50" height="2.40" fill="#000"/>
<path d="M521.00 420.20 L498.80 442.90" fill="none" stroke="#000" stroke-width="2.8" stroke-linecap="butt" stroke-linejoin="miter"/>
<path d="M517.60 419.40 L497.20 440.20" fill="none" stroke="#333" stroke-width="0.8"/>
<path d="M498.00 441.50 L498.00 465.50 L500.50 465.50 L500.50 441.00" fill="none" stroke="#222" stroke-width="0.9"/>
<path d="M474.50 445.90 L498.00 445.90" fill="none" stroke="#222" stroke-width="0.8"/>
<path d="M474.50 452.10 L498.00 452.10" fill="none" stroke="#222" stroke-width="0.8"/>
<path d="M474.50 458.40 L498.00 458.40" fill="none" stroke="#222" stroke-width="0.8"/>
<path d="M474.50 464.60 L498.00 464.60" fill="none" stroke="#222" stroke-width="0.8"/>
<path d="M475.00 432.40 L498.50 442.00" fill="none" stroke="#222" stroke-width="0.8"/>
<path d="M507.10 401.80 L517.40 420.30" fill="none" stroke="#222" stroke-width="0.8"/>
<path d="M499.00 407.90 L514.60 423.50" fill="none" stroke="#222" stroke-width="0.8"/>
<path d="M493.50 413.40 L509.10 429.00" fill="none" stroke="#222" stroke-width="0.8"/>
<path d="M488.00 418.90 L503.60 434.50" fill="none" stroke="#222" stroke-width="0.8"/>
<path d="M482.50 424.40 L498.10 440.00" fill="none" stroke="#222" stroke-width="0.8"/>
<path d="M539.50 408.00 L516.80 408.00 L509.00 415.80" fill="none" stroke="#222" stroke-width="0.8"/>
<path d="M494.00 430.50 L486.40 437.80 L486.40 464.00" fill="none" stroke="#222" stroke-width="0.8"/>
<path d="M509.00 415.80 L503.50 421.00 L500.80 418.60 L497.60 424.20 L500.20 426.40 L494.00 430.50" fill="none" stroke="#333" stroke-width="0.7"/>
<path d="M502.50 427.50 L503.20 423.20 L506.30 421.80" fill="none" stroke="#333" stroke-width="0.7"/>
<path d="M505.60 416.40 L507.60 418.60 L510.80 418.80" fill="none" stroke="#000" stroke-width="1.3"/>
<path d="M507.60 418.60 L506.40 414.80" fill="none" stroke="#000" stroke-width="1.3"/>
<path d="M488.20 431.20 L491.00 432.00 L492.60 435.20" fill="none" stroke="#000" stroke-width="1.3"/>
<path d="M491.00 432.00 L493.40 429.60" fill="none" stroke="#000" stroke-width="1.3"/>
<circle cx="486.4" cy="464" r="0.8" fill="#222"/><circle cx="539.5" cy="408" r="0.8" fill="#222"/>
<text x="483.60" y="468.80" font-size="4.6" fill="#444" text-anchor="start" textLength="6.00" lengthAdjust="spacingAndGlyphs">UP</text>
<path d="M539.50 398.00 L552.00 414.60 L540.00 417.75" fill="none" stroke="#222" stroke-width="0.8"/>
<text x="540.90" y="412.60" font-size="4.6" fill="#333" text-anchor="start" textLength="6.20" lengthAdjust="spacingAndGlyphs">DN</text>
<path d="M553.30 449.00 L623.00 449.00" fill="none" stroke="#000" stroke-width="3.8" stroke-linecap="butt" stroke-linejoin="miter"/>
<path d="M621.40 447.10 L621.40 464.50" fill="none" stroke="#000" stroke-width="3.4" stroke-linecap="butt" stroke-linejoin="miter"/>
<path d="M582.80 449.50 L547.30 479.50" fill="none" stroke="#000" stroke-width="3.6" stroke-linecap="butt" stroke-linejoin="miter"/>
<path d="M581.00 449.50 L597.00 463.80" fill="none" stroke="#000" stroke-width="3.4" stroke-linecap="butt" stroke-linejoin="miter"/>
<path d="M524.20 478.70 L549.00 478.70" fill="none" stroke="#000" stroke-width="3.3" stroke-linecap="butt" stroke-linejoin="miter"/>
<rect x="524.20" y="477.00" width="2.80" height="5.80" fill="#000"/>
<path d="M535.60 466.50 L548.50 479.00" fill="none" stroke="#000" stroke-width="2.8" stroke-linecap="butt" stroke-linejoin="miter"/>
<path d="M540.00 467.40 L540.00 456.00 L546.70 456.00" fill="none" stroke="#111" stroke-width="1.4"/>
<path d="M548.60 480.30 L572.00 480.30 L591.70 461.60" fill="none" stroke="#444" stroke-width="0.7"/>
<path d="M559.50 480.00 L586.50 454.50" fill="none" stroke="#666" stroke-width="0.6" stroke-dasharray="2.2 1.3"/>
<rect x="599.2" y="452.2" width="19.7" height="18.2" rx="2.5" fill="#fff" stroke="#444" stroke-width="1"/>
<path d="M604.50 457.00 L607.30 459.60" fill="none" stroke="#555" stroke-width="0.8"/>
<path d="M610.70 462.70 L613.50 465.30" fill="none" stroke="#555" stroke-width="0.8"/>
<path d="M613.50 457.00 L610.70 459.60" fill="none" stroke="#555" stroke-width="0.8"/>
<path d="M607.30 462.70 L604.50 465.30" fill="none" stroke="#555" stroke-width="0.8"/>
<text x="544.00" y="464.25" font-size="4.8" font-weight="700" fill="#111" text-anchor="start" textLength="16.75" lengthAdjust="spacingAndGlyphs" stroke="#111" stroke-width="0.2">CLOSET</text>
<text x="398.25" y="433.25" font-size="6.5" font-weight="700" fill="#111" text-anchor="start" textLength="47.00" lengthAdjust="spacingAndGlyphs" stroke="#111" stroke-width="0.2">DINING ROOM</text>
<text x="403.25" y="442.00" font-size="6.8" fill="#444" text-anchor="start" textLength="41.25" lengthAdjust="spacingAndGlyphs">14'-9"×10'-10"</text>
<text x="400.00" y="531.75" font-size="6.5" font-weight="700" fill="#111" text-anchor="start" textLength="45.25" lengthAdjust="spacingAndGlyphs" stroke="#111" stroke-width="0.2">LIVING ROOM</text>
<text x="402.00" y="540.50" font-size="6.8" fill="#444" text-anchor="start" textLength="39.50" lengthAdjust="spacingAndGlyphs">12'-10"x15'-2"</text>
<text x="488.10" y="507.75" font-size="6.5" font-weight="700" fill="#111" text-anchor="start" textLength="20.00" lengthAdjust="spacingAndGlyphs" stroke="#111" stroke-width="0.2">FOYER</text>
<text x="478.75" y="515.60" font-size="6.8" fill="#444" text-anchor="start" textLength="37.50" lengthAdjust="spacingAndGlyphs">6'-11"× 7'-0"</text>
<text x="652.75" y="456.50" font-size="6.5" font-weight="700" fill="#111" text-anchor="start" textLength="46.50" lengthAdjust="spacingAndGlyphs" stroke="#111" stroke-width="0.2">FAMILY ROOM</text>
<text x="657.50" y="466.00" font-size="6.8" fill="#444" text-anchor="start" textLength="40.00" lengthAdjust="spacingAndGlyphs">13'-7"x17'-11"</text>
<text x="555.00" y="536.50" font-size="6.5" font-weight="700" fill="#111" text-anchor="start" textLength="27.25" lengthAdjust="spacingAndGlyphs" stroke="#111" stroke-width="0.2">KITCHEN</text>
<text x="552.25" y="545.25" font-size="6.8" fill="#444" text-anchor="start" textLength="36.75" lengthAdjust="spacingAndGlyphs">9'-6" ×14'-2"</text>
<text x="612.25" y="567.90" font-size="6.5" font-weight="700" fill="#111" text-anchor="start" textLength="43.20" lengthAdjust="spacingAndGlyphs" stroke="#111" stroke-width="0.2">EATING AREA</text>
<text x="616.00" y="576.90" font-size="6.8" fill="#444" text-anchor="start" textLength="36.50" lengthAdjust="spacingAndGlyphs">10'-1"×10'-2"</text>
<text x="611.75" y="628.75" font-size="6.5" font-weight="700" fill="#111" text-anchor="start" textLength="17.00" lengthAdjust="spacingAndGlyphs" stroke="#111" stroke-width="0.2">DECK</text>
<text x="601.75" y="637.50" font-size="6.8" fill="#444" text-anchor="start" textLength="37.00" lengthAdjust="spacingAndGlyphs">24'-4"× 7'-2"</text>
<!-- upper floor -->
<text x="798.40" y="258.30" font-size="7" font-weight="700" fill="#111" text-anchor="start" textLength="60.50" lengthAdjust="spacingAndGlyphs" stroke="#111" stroke-width="0.2">Upper Floor Plan</text>
<path d="M798.40 260.20 L858.90 260.20" fill="none" stroke="#111" stroke-width="0.8"/>
<text x="797.90" y="269.00" font-size="7.4" fill="#444" text-anchor="start" textLength="75.10" lengthAdjust="spacingAndGlyphs">Floor Area: 943 sq.ft.</text>
<text x="797.90" y="278.00" font-size="7.4" fill="#444" text-anchor="start" textLength="74.50" lengthAdjust="spacingAndGlyphs">Ceiling Height: 7'-11"</text>
<path d="M748.00 296.30 L900.25 296.30" fill="none" stroke="#000" stroke-width="4.1" stroke-linecap="butt" stroke-linejoin="miter"/>
<path d="M750.10 294.25 L750.10 523.00" fill="none" stroke="#000" stroke-width="4.1" stroke-linecap="butt" stroke-linejoin="miter"/>
<path d="M898.10 294.25 L898.10 386.20" fill="none" stroke="#000" stroke-width="4.2" stroke-linecap="butt" stroke-linejoin="miter"/>
<path d="M896.00 384.20 L1005.40 384.20" fill="none" stroke="#000" stroke-width="4.2" stroke-linecap="butt" stroke-linejoin="miter"/>
<path d="M1003.30 382.10 L1003.30 523.00" fill="none" stroke="#000" stroke-width="4.2" stroke-linecap="butt" stroke-linejoin="miter"/>
<polygon points="777.25,298.00 809.00,298.00 809.00,294.60 777.25,294.60" fill="#ccc" stroke="#111" stroke-width="0.9"/>
<line x1="777.25" y1="296.30" x2="809.00" y2="296.30" stroke="#777" stroke-width="0.6"/>
<path d="M748.00 384.75 L836.25 384.75" fill="none" stroke="#000" stroke-width="3.7" stroke-linecap="butt" stroke-linejoin="miter"/>
<path d="M881.00 384.20 L898.00 384.20" fill="none" stroke="#000" stroke-width="4.2" stroke-linecap="butt" stroke-linejoin="miter"/>
<rect x="856.75" y="375.75" width="3.50" height="10.55" fill="#000"/>
<path d="M836.30 384.00 L839.40 375.00 L856.60 383.20" fill="none" stroke="#000" stroke-width="1.25"/>
<path d="M860.40 383.20 L878.75 375.00 L880.80 384.00" fill="none" stroke="#000" stroke-width="1.25"/>
<path d="M841.00 298.00 L841.00 313.00" fill="none" stroke="#000" stroke-width="3.2" stroke-linecap="butt" stroke-linejoin="miter"/>
<path d="M841.00 342.50 L841.00 355.60" fill="none" stroke="#000" stroke-width="3.2" stroke-linecap="butt" stroke-linejoin="miter"/>
<path d="M839.40 353.80 L860.50 353.80" fill="none" stroke="#000" stroke-width="3.6" stroke-linecap="butt" stroke-linejoin="miter"/>
<path d="M858.90 298.00 L858.90 355.60" fill="none" stroke="#000" stroke-width="3.4" stroke-linecap="butt" stroke-linejoin="miter"/>
<path d="M842.30 312.60 L835.30 318.00 L840.30 322.60" fill="none" stroke="#000" stroke-width="1.35"/>
<path d="M840.30 333.20 L835.30 337.50 L842.30 342.90" fill="none" stroke="#000" stroke-width="1.35"/>
<path d="M858.90 355.60 L858.90 364.40" fill="none" stroke="#222" stroke-width="1.2"/>
<rect x="857.8" y="338.7" width="1.9" height="6.8" fill="#bbb"/>
<text x="0.00" y="0.00" font-size="4.6" font-weight="700" fill="#111" text-anchor="start" textLength="17.50" lengthAdjust="spacingAndGlyphs" transform="translate(851.7 333.75) rotate(-90)" stroke="#111" stroke-width="0.2">CLOSET</text>
<rect x="862.3" y="300.2" width="32.4" height="16.7" rx="5" fill="#fff" stroke="#555" stroke-width="1.1"/>
<path d="M892.30 307.30 L892.30 309.30" fill="none" stroke="#444" stroke-width="0.9"/>
<path d="M860.25 318.60 L896.00 318.60" fill="none" stroke="#666" stroke-width="1.0"/>
<rect x="891.3" y="325.8" width="4.8" height="13" rx="0.6" fill="#fff" stroke="#555" stroke-width="1.1"/>
<path d="M891.3 328 L883 327.6 Q878 328 878 332.4 Q878 337 883 337.2 L891.3 336.8 Z" fill="#fff" stroke="#555" stroke-width="1.2"/>
<rect x="896.3" y="325" width="3.7" height="13" fill="#ccc" stroke="#333" stroke-width="0.6"/>
<path d="M883.50 382.50 L883.50 340.75 L896.00 340.75" fill="none" stroke="#333" stroke-width="0.8"/>
<rect x="886" y="354.7" width="9" height="11.5" rx="0.8" fill="#fff" stroke="#555" stroke-width="1.1"/>
<circle cx="890.2" cy="360.7" r="0.6" fill="#222"/>
<text x="866.50" y="343.75" font-size="6.5" font-weight="700" fill="#111" text-anchor="start" textLength="15.75" lengthAdjust="spacingAndGlyphs" stroke="#111" stroke-width="0.2">BATH</text>
<text x="864.75" y="351.75" font-size="6.8" fill="#444" text-anchor="start" textLength="20.00" lengthAdjust="spacingAndGlyphs">4'-10"x</text>
<text x="867.25" y="360.00" font-size="6.8" fill="#444" text-anchor="start" textLength="15.00" lengthAdjust="spacingAndGlyphs">11'-5"</text>
<path d="M884.70 386.00 L884.70 401.60" fill="none" stroke="#000" stroke-width="3.2" stroke-linecap="butt" stroke-linejoin="miter"/>
<path d="M895.00 401.00 L900.60 406.00 L906.90 399.90" fill="none" stroke="#000" stroke-width="1.35"/>
<rect x="906.25" y="398.25" width="5.00" height="2.75" fill="#000"/>
<path d="M912.50 386.00 L912.50 412.90" fill="none" stroke="#000" stroke-width="3.0" stroke-linecap="butt" stroke-linejoin="miter"/>
<path d="M911.00 411.30 L918.75 411.30" fill="none" stroke="#000" stroke-width="3.1" stroke-linecap="butt" stroke-linejoin="miter"/>
<path d="M949.40 411.30 L954.40 411.30" fill="none" stroke="#000" stroke-width="3.1" stroke-linecap="butt" stroke-linejoin="miter"/>
<path d="M918.75 411.20 L923.75 417.00 L928.75 412.70" fill="none" stroke="#000" stroke-width="1.35"/>
<path d="M939.40 412.70 L944.00 417.00 L949.40 411.60" fill="none" stroke="#000" stroke-width="1.35"/>
<path d="M955.45 386.00 L955.45 439.30" fill="none" stroke="#000" stroke-width="2.9" stroke-linecap="butt" stroke-linejoin="miter"/>
<rect x="917.4" y="389.3" width="15.2" height="15" fill="#fff" stroke="#666" stroke-width="1.1"/>
<rect x="935.5" y="389.3" width="15.6" height="15" fill="#fff" stroke="#666" stroke-width="1.1"/>
<text x="925.00" y="399.40" font-size="6" fill="#333" text-anchor="middle">W</text>
<text x="943.20" y="399.40" font-size="6" fill="#333" text-anchor="middle">D</text>
<text x="889.00" y="394.75" font-size="4.8" font-weight="700" fill="#111" text-anchor="start" textLength="17.90" lengthAdjust="spacingAndGlyphs" stroke="#111" stroke-width="0.2">CLOSET</text>
<text x="857.75" y="412.50" font-size="6.5" font-weight="700" fill="#111" text-anchor="start" textLength="15.25" lengthAdjust="spacingAndGlyphs" stroke="#111" stroke-width="0.2">HALL</text>
<text x="846.75" y="421.25" font-size="6.8" fill="#444" text-anchor="start" textLength="36.75" lengthAdjust="spacingAndGlyphs">12'-7"× 6'-9"</text>
<text x="969.00" y="408.75" font-size="6.5" font-weight="700" fill="#111" text-anchor="start" textLength="18.25" lengthAdjust="spacingAndGlyphs" stroke="#111" stroke-width="0.2">W.I.C.</text>
<text x="961.25" y="417.90" font-size="6.8" fill="#444" text-anchor="start" textLength="35.00" lengthAdjust="spacingAndGlyphs">6'-0" × 6'-9"</text>
<path d="M836.00 437.90 L880.00 437.90" fill="none" stroke="#000" stroke-width="3.3" stroke-linecap="butt" stroke-linejoin="miter"/>
<path d="M909.40 437.90 L933.75 437.90" fill="none" stroke="#000" stroke-width="3.3" stroke-linecap="butt" stroke-linejoin="miter"/>
<path d="M952.50 437.90 L961.25 437.90" fill="none" stroke="#000" stroke-width="3.3" stroke-linecap="butt" stroke-linejoin="miter"/>
<path d="M982.25 437.90 L1001.50 437.90" fill="none" stroke="#000" stroke-width="3.3" stroke-linecap="butt" stroke-linejoin="miter"/>
<path d="M880.00 440.40 L889.40 444.75 L890.60 439.75 L892.50 448.25 L909.40 438.50" fill="none" stroke="#000" stroke-width="1.25"/>
<path d="M933.75 438.50 L950.00 448.25 L952.50 437.25" fill="none" stroke="#000" stroke-width="1.25"/>
<path d="M961.25 438.50 L967.10 444.10 L972.75 439.10" fill="none" stroke="#000" stroke-width="1.35"/>
<polygon points="751.00,385.00 789.60,385.00 752.10,422.60 751.00,422.60" fill="#000"/>
<path d="M798.10 386.60 L798.10 409.75" fill="none" stroke="#333" stroke-width="0.7"/>
<path d="M804.40 386.60 L804.40 409.75" fill="none" stroke="#333" stroke-width="0.7"/>
<path d="M810.60 386.60 L810.60 409.75" fill="none" stroke="#333" stroke-width="0.7"/>
<path d="M816.90 386.60 L816.90 409.75" fill="none" stroke="#333" stroke-width="0.7"/>
<path d="M817.50 411.00 L798.40 411.00 L776.90 432.80 L776.90 455.40" fill="none" stroke="#333" stroke-width="2.6"/>
<path d="M817.50 411.00 L798.40 411.00 L776.90 432.80 L776.90 455.40" fill="none" stroke="#ddd" stroke-width="0.9"/>
<path d="M775.60 455.40 L778.40 455.40" fill="none" stroke="#333" stroke-width="0.8"/>
<path d="M816.50 410.20 L840.20 434.00 L837.00 437.20" fill="none" stroke="#111" stroke-width="1.3"/>
<path d="M815.20 412.30 L837.80 435.00" fill="none" stroke="#444" stroke-width="0.7"/>
<path d="M798.80 411.60 L777.20 433.40" fill="none" stroke="#222" stroke-width="1.5" stroke-linecap="butt" stroke-linejoin="miter"/>
<path d="M752.10 436.00 L775.60 436.00" fill="none" stroke="#333" stroke-width="0.7"/>
<path d="M752.10 442.25 L775.60 442.25" fill="none" stroke="#333" stroke-width="0.7"/>
<path d="M752.10 448.50 L775.60 448.50" fill="none" stroke="#333" stroke-width="0.7"/>
<path d="M752.10 454.75 L775.60 454.75" fill="none" stroke="#333" stroke-width="0.7"/>
<path d="M752.10 422.60 L776.25 432.25" fill="none" stroke="#333" stroke-width="0.7"/>
<path d="M762.50 414.20 L778.00 430.40" fill="none" stroke="#333" stroke-width="0.7"/>
<path d="M767.00 409.50 L782.50 425.80" fill="none" stroke="#333" stroke-width="0.7"/>
<path d="M771.30 404.80 L787.00 421.20" fill="none" stroke="#333" stroke-width="0.7"/>
<path d="M776.30 399.80 L791.30 417.00" fill="none" stroke="#333" stroke-width="0.7"/>
<path d="M783.80 392.30 L795.00 411.70" fill="none" stroke="#333" stroke-width="0.7"/>
<path d="M816.90 397.90 L792.50 397.90 L763.75 428.50 L763.75 454.00" fill="none" stroke="#222" stroke-width="0.8"/>
<path d="M761.40 451.60 L763.75 454.20 L766.10 451.60" fill="none" stroke="#000" stroke-width="1.35"/>
<circle cx="816.9" cy="397.9" r="0.8" fill="#222"/>
<text x="819.40" y="400.00" font-size="4.6" fill="#333" text-anchor="start" textLength="6.30" lengthAdjust="spacingAndGlyphs">DN</text>
<rect x="750" y="438.5" width="2.5" height="13.1" fill="#ccc" stroke="#555" stroke-width="0.5"/>
<path d="M748.00 521.20 L805.50 521.20" fill="none" stroke="#000" stroke-width="3.7" stroke-linecap="butt" stroke-linejoin="miter"/>
<polygon points="758.50,522.80 795.00,522.80 795.00,519.60 758.50,519.60" fill="#ccc" stroke="#111" stroke-width="0.9"/>
<line x1="758.50" y1="521.20" x2="795.00" y2="521.20" stroke="#777" stroke-width="0.6"/>
<path d="M803.30 467.00 L803.30 562.00" fill="none" stroke="#000" stroke-width="4.2" stroke-linecap="butt" stroke-linejoin="miter"/>
<path d="M802.20 468.60 L837.50 437.00" fill="none" stroke="#000" stroke-width="3.6" stroke-linecap="butt" stroke-linejoin="miter"/>
<path d="M801.20 559.90 L875.50 559.90" fill="none" stroke="#000" stroke-width="4.2" stroke-linecap="butt" stroke-linejoin="miter"/>
<polygon points="820.40,561.60 855.50,561.60 855.50,558.20 820.40,558.20" fill="#ccc" stroke="#111" stroke-width="0.9"/>
<line x1="820.40" y1="559.90" x2="855.50" y2="559.90" stroke="#777" stroke-width="0.6"/>
<path d="M891.25 521.40 L873.25 521.40 L873.25 573.70 L897.10 597.50 L929.20 597.50 L951.90 573.70 L951.90 523.00" fill="none" stroke="#000" stroke-width="4" stroke-linecap="butt" stroke-linejoin="miter"/>
<path d="M909.40 521.40 L1005.40 521.40" fill="none" stroke="#000" stroke-width="3.7" stroke-linecap="butt" stroke-linejoin="miter"/>
<polygon points="961.90,523.00 995.60,523.00 995.60,519.80 961.90,519.80" fill="#ccc" stroke="#111" stroke-width="0.9"/>
<line x1="961.90" y1="521.40" x2="995.60" y2="521.40" stroke="#777" stroke-width="0.6"/>
<polygon points="875.44,578.06 892.94,595.46 895.06,593.34 877.56,575.94" fill="#fafafa" stroke="#111" stroke-width="0.9"/>
<line x1="876.50" y1="577.00" x2="894.00" y2="594.40" stroke="#777" stroke-width="0.6"/>
<polygon points="900.50,599.05 925.80,599.05 925.80,595.95 900.50,595.95" fill="#fafafa" stroke="#111" stroke-width="0.9"/>
<line x1="900.50" y1="597.50" x2="925.80" y2="597.50" stroke="#777" stroke-width="0.6"/>
<polygon points="933.49,595.43 949.89,578.03 947.71,575.97 931.31,593.37" fill="#fafafa" stroke="#111" stroke-width="0.9"/>
<line x1="932.40" y1="594.40" x2="948.80" y2="577.00" stroke="#777" stroke-width="0.6"/>
<path d="M891.25 521.50 L893.10 530.75 L908.75 522.60" fill="none" stroke="#000" stroke-width="1.25"/>
<path d="M929.80 436.00 L929.80 523.00" fill="none" stroke="#000" stroke-width="3.4" stroke-linecap="butt" stroke-linejoin="miter"/>
<path d="M912.50 436.00 L912.50 444.50" fill="none" stroke="#000" stroke-width="3.0" stroke-linecap="butt" stroke-linejoin="miter"/>
<path d="M912.50 474.50 L912.50 484.50" fill="none" stroke="#000" stroke-width="3.0" stroke-linecap="butt" stroke-linejoin="miter"/>
<path d="M912.50 514.50 L912.50 523.00" fill="none" stroke="#000" stroke-width="3.0" stroke-linecap="butt" stroke-linejoin="miter"/>
<path d="M912.25 444.30 L906.90 449.50 L911.25 454.25" fill="none" stroke="#000" stroke-width="1.35"/>
<path d="M911.25 464.75 L906.90 468.90 L912.25 474.70" fill="none" stroke="#000" stroke-width="1.35"/>
<path d="M912.25 484.30 L906.90 489.75 L911.25 494.25" fill="none" stroke="#000" stroke-width="1.35"/>
<path d="M911.25 505.10 L906.90 510.10 L912.25 514.75" fill="none" stroke="#000" stroke-width="1.35"/>
<text x="0.00" y="0.00" font-size="4.6" font-weight="700" fill="#111" text-anchor="start" textLength="17.90" lengthAdjust="spacingAndGlyphs" transform="translate(924 483.9) rotate(-90)" stroke="#111" stroke-width="0.2">CLOSET</text>
<path d="M875.4 523.4 L886.9 523.4 L889.4 526.4 L889.4 555.2 L885.7 558.2 L875.4 558.2" fill="#fff" stroke="#555" stroke-width="1"/>
<circle cx="881.9" cy="530.1" r="4.6" fill="#fff" stroke="#444" stroke-width="0.9"/><circle cx="881.9" cy="550.5" r="4.6" fill="#fff" stroke="#444" stroke-width="0.9"/>
<circle cx="879.4" cy="530.1" r="0.6" fill="#222"/><circle cx="879.4" cy="550.5" r="0.6" fill="#222"/>
<path d="M927.25 523.3 A22.5 22.5 0 0 0 949.75 545.8" fill="none" stroke="#444" stroke-width="1.1"/>
<path d="M929.6 523.3 A20.2 20.2 0 0 0 949.75 543.5" fill="none" stroke="#666" stroke-width="0.7"/>
<path d="M941.25 531.40 L928.20 524.00" fill="none" stroke="#444" stroke-width="0.7"/>
<path d="M941.25 531.40 L949.40 524.00" fill="none" stroke="#444" stroke-width="0.7"/>
<path d="M941.25 531.40 L930.00 534.50" fill="none" stroke="#444" stroke-width="0.7"/>
<path d="M941.25 531.40 L938.80 543.20" fill="none" stroke="#444" stroke-width="0.7"/>
<path d="M941.25 531.40 L948.80 544.50" fill="none" stroke="#444" stroke-width="0.7"/>
<rect x="945" y="548.3" width="4.5" height="13.1" rx="0.6" fill="#fff" stroke="#555" stroke-width="1.1"/>
<path d="M945 550.4 L936.5 550 Q931.5 550.4 931.5 554.8 Q931.5 559.2 936.5 559.6 L945 559.2 Z" fill="#fff" stroke="#555" stroke-width="1.3"/>
<rect x="897.6" y="573" width="33.5" height="17.2" rx="5.5" fill="#fff" stroke="#555" stroke-width="0.9"/>
<rect x="898.9" y="574.3" width="30.9" height="14.6" rx="4.5" fill="#fff" stroke="#555" stroke-width="0.9"/>
<circle cx="900.8" cy="581.8" r="0.7" fill="#222"/>
<text x="781.50" y="337.50" font-size="6.5" font-weight="700" fill="#111" text-anchor="start" textLength="34.00" lengthAdjust="spacingAndGlyphs" stroke="#111" stroke-width="0.2">BEDROOM</text>
<text x="779.75" y="346.25" font-size="6.8" fill="#444" text-anchor="start" textLength="38.25" lengthAdjust="spacingAndGlyphs">14'-2"×11'-5"</text>
<text x="769.20" y="477.00" font-size="4.8" font-weight="700" fill="#111" text-anchor="start" textLength="20.80" lengthAdjust="spacingAndGlyphs" stroke="#111" stroke-width="0.2">OPEN TO</text>
<text x="771.20" y="483.30" font-size="4.8" font-weight="700" fill="#111" text-anchor="start" textLength="16.80" lengthAdjust="spacingAndGlyphs" stroke="#111" stroke-width="0.2">BELOW</text>
<text x="829.60" y="488.30" font-size="6.5" font-weight="700" fill="#111" text-anchor="start" textLength="64.40" lengthAdjust="spacingAndGlyphs" stroke="#111" stroke-width="0.2">PRIMARY BEDROOM</text>
<text x="843.40" y="496.80" font-size="6.8" fill="#444" text-anchor="start" textLength="40.20" lengthAdjust="spacingAndGlyphs">14'-4"x15'-11"</text>
<text x="950.60" y="475.75" font-size="6.5" font-weight="700" fill="#111" text-anchor="start" textLength="33.20" lengthAdjust="spacingAndGlyphs" stroke="#111" stroke-width="0.2">BEDROOM</text>
<text x="950.60" y="483.50" font-size="6.8" fill="#444" text-anchor="start" textLength="36.60" lengthAdjust="spacingAndGlyphs">9'-5" ×10'-9"</text>
<text x="898.10" y="552.25" font-size="6.5" font-weight="700" fill="#111" text-anchor="start" textLength="24.00" lengthAdjust="spacingAndGlyphs" stroke="#111" stroke-width="0.2">ENSUITE</text>
<text x="891.25" y="560.10" font-size="6.8" fill="#444" text-anchor="start" textLength="36.90" lengthAdjust="spacingAndGlyphs">10'-1"× 9'-9"</text>
</svg>
</body></html>
